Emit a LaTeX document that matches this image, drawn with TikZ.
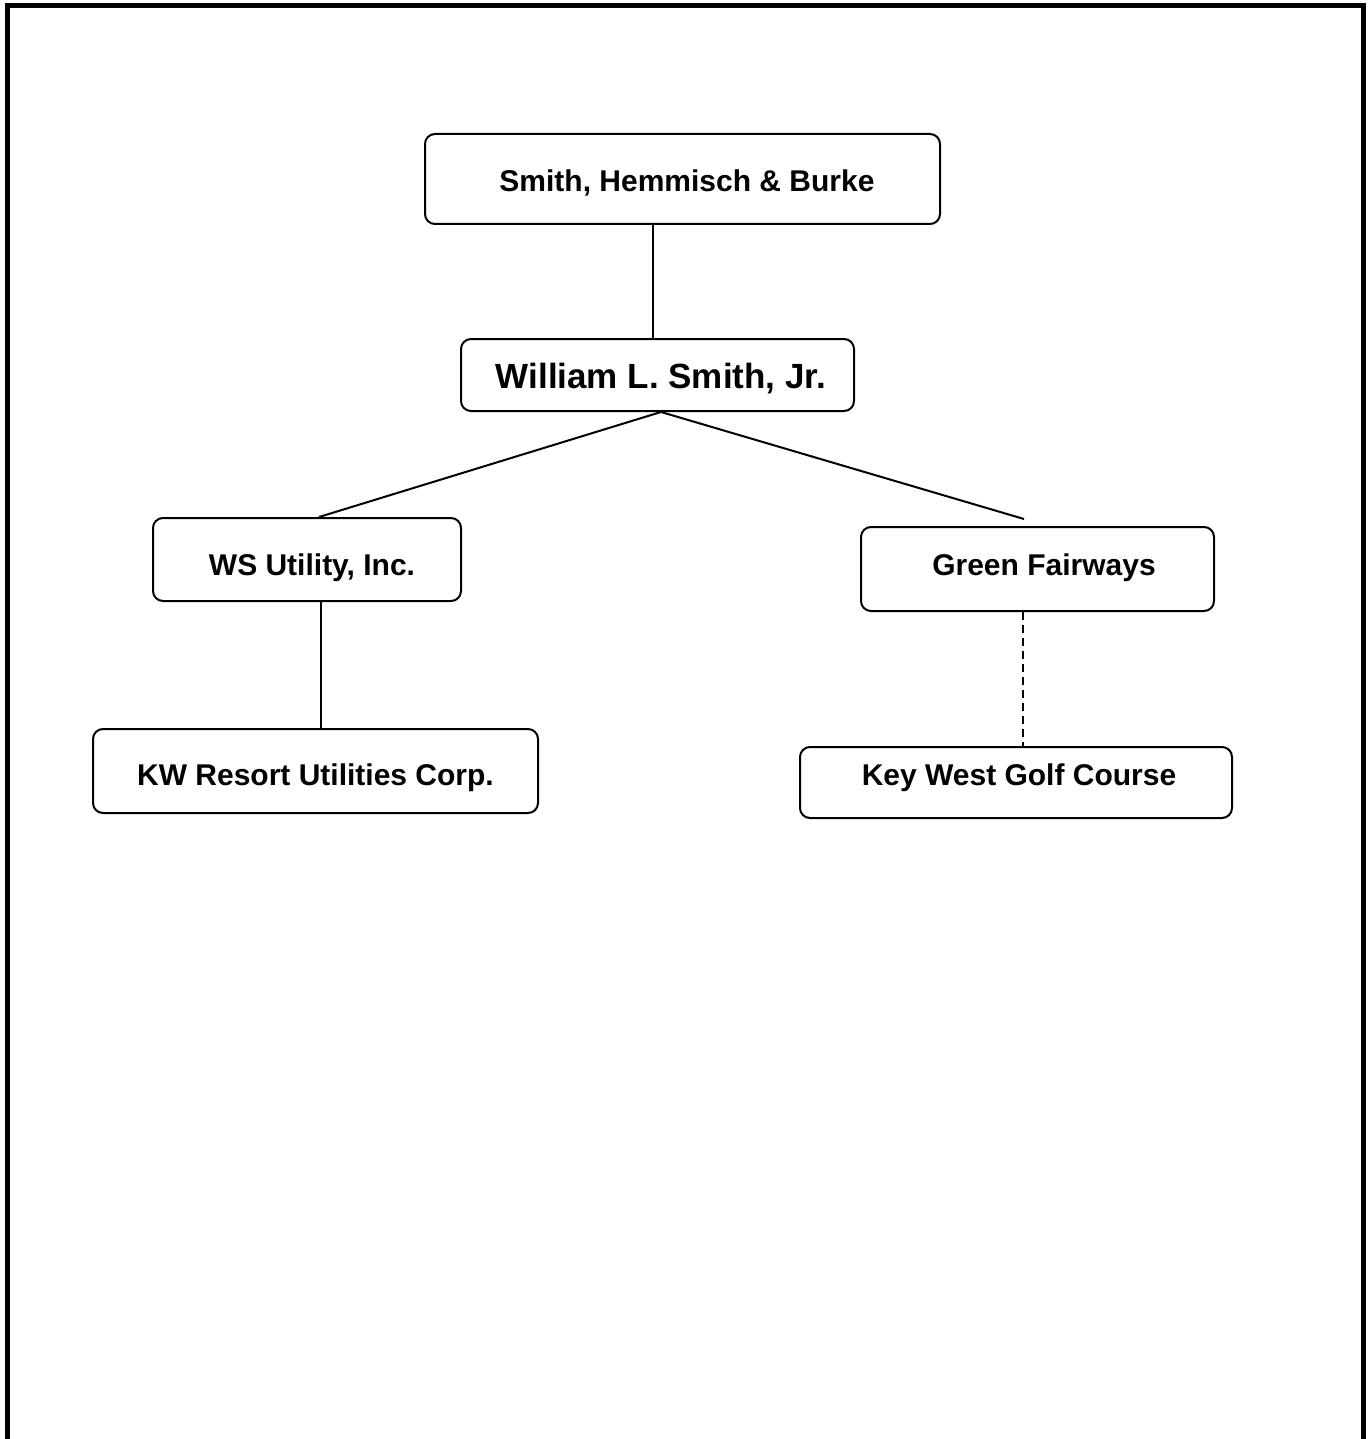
\documentclass[tikz,border=0pt]{standalone}
\usepackage{fontspec}
\setmainfont{Liberation Sans}
\begin{document}
\begin{tikzpicture}[x=1pt,y=-1pt,
  box/.style={draw=black,line width=2pt,rounded corners=10pt,inner sep=0pt,fill=white},
  lbl/.style={anchor=base,inner sep=0pt,font=\bfseries\fontsize{30}{36}\selectfont},
  big/.style={lbl,font=\bfseries\fontsize{35}{42}\selectfont},
  conn/.style={line width=2pt},
  dashconn/.style={line width=2pt,dash pattern=on 8pt off 5pt}]
\useasboundingbox (0,0) rectangle (1372,1439);
\clip (0,0) rectangle (1372,1439);
% frame
\draw[line width=5pt] (7,1460) -- (7,5.5) -- (1363.5,5.5) -- (1363.5,1460);
% boxes
\node[box,minimum width=515pt,minimum height=90pt] (shb) at (682.5,179) {};
\node[box,minimum width=393pt,minimum height=72pt] (wls) at (657.5,375) {};
\node[box,minimum width=308pt,minimum height=83pt] (wsu) at (307,559.5) {};
\node[box,minimum width=353pt,minimum height=84pt] (gf) at (1037.5,569) {};
\node[box,minimum width=445pt,minimum height=84pt] (kw) at (315.5,771) {};
\node[box,minimum width=432pt,minimum height=71pt] (kwgc) at (1016,782.5) {};
% labels
\node[lbl] (shbt) at (687,192) {Smith, Hemmisch \& Burke};
\node[big] (wlst) at (661,388) {William L. Smith, Jr.};
\node[lbl] (wsut) at (312,575) {WS Utility, Inc.};
\node[lbl] (gft) at (1044,575) {Green Fairways};
\node[lbl] (kwt) at (315.5,785) {KW Resort Utilities Corp.};
\node[lbl] (kwgct) at (1019,785) {Key West Golf Course};
% connector anchors
\coordinate (x1) at (653,0);
\coordinate (x2) at (321,0);
\coordinate (x3) at (1023,0);
\coordinate (gfend) at (1024,519);
% connectors
\draw[conn] (shb.south -| x1) -- (wls.north -| x1);
\draw[conn] ([xshift=3.5pt]wls.south) -- ([xshift=12pt]wsu.north);
\draw[conn] ([xshift=3.5pt]wls.south) -- (gfend);
\draw[conn] (wsu.south -| x2) -- (kw.north -| x2);
\draw[dashconn] (gf.south -| x3) -- (kwgc.north -| x3);
\end{tikzpicture}
\end{document}
